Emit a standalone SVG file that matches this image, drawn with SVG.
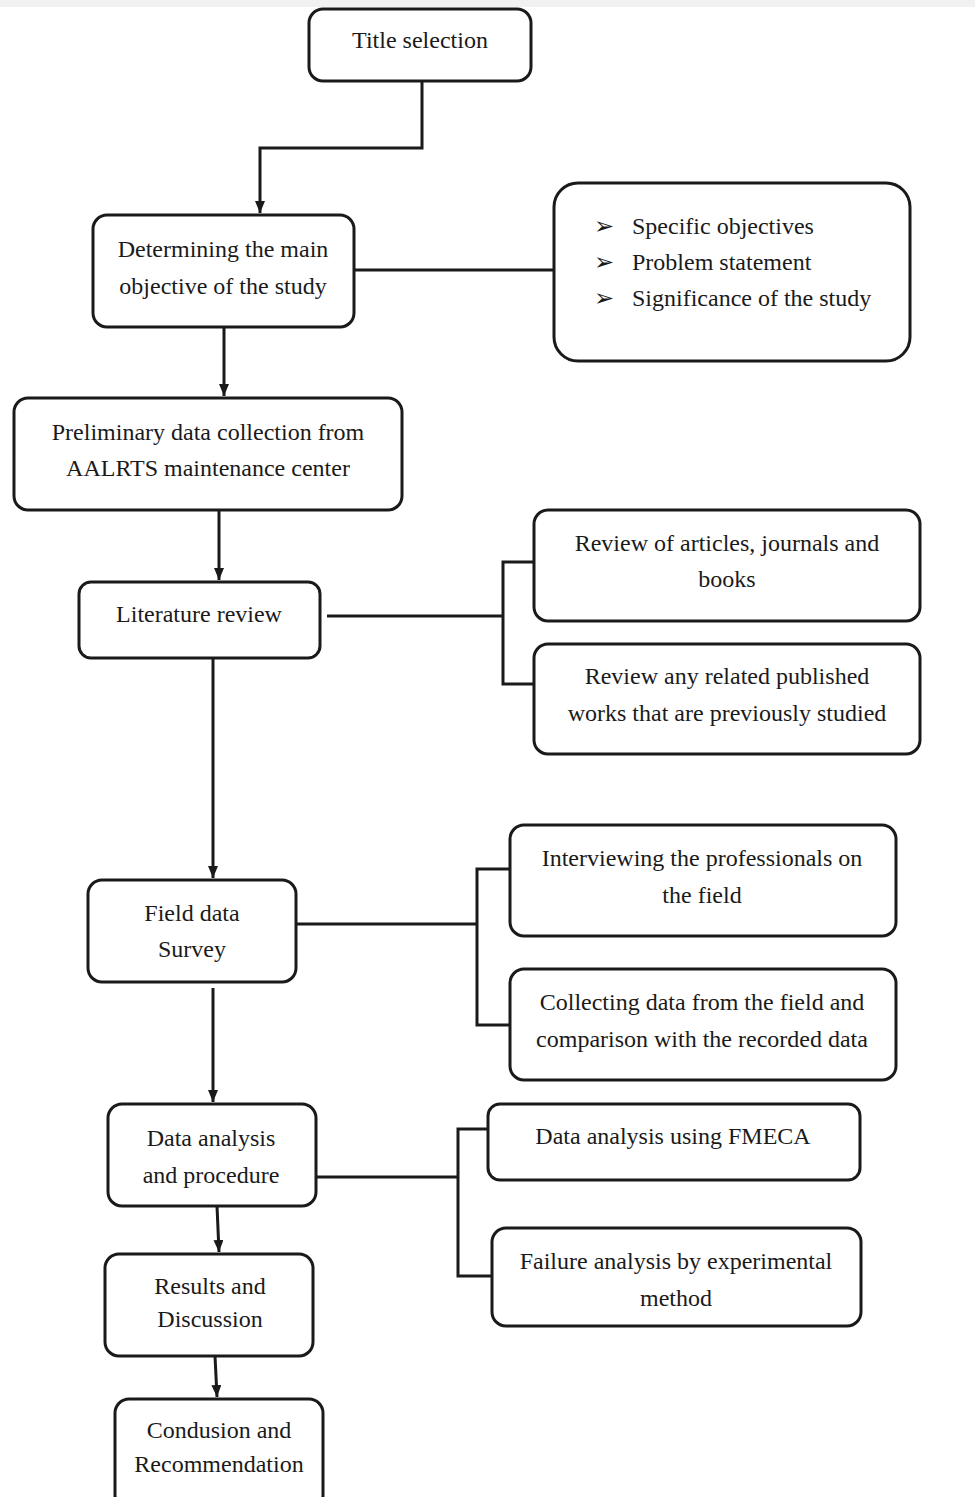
<svg xmlns="http://www.w3.org/2000/svg" width="975" height="1497" viewBox="0 0 975 1497">
  <style>
    .box { fill: #ffffff; stroke: #1a1a1a; stroke-width: 3; }
    .wire { fill: none; stroke: #1a1a1a; stroke-width: 3; }
    .lbl { font-family: 'Liberation Serif', 'Times New Roman', 'DejaVu Serif', serif; font-size: 24px; fill: #1a1a1a; text-anchor: middle; }
    .item { font-family: 'Liberation Serif', 'Times New Roman', 'DejaVu Serif', serif; font-size: 24px; fill: #1a1a1a; }
    .bullet { font-family: 'DejaVu Sans', sans-serif; font-size: 24px; fill: #1a1a1a; }
  </style>
  <defs>
    <marker id="head" viewBox="0 0 12 10" refX="12" refY="5" markerWidth="12" markerHeight="10" markerUnits="userSpaceOnUse" orient="auto">
      <path d="M0,0 L12,5 L0,10 Z" fill="#1a1a1a"/>
    </marker>
  </defs>

  <rect x="0" y="0" width="975" height="1497" fill="#ffffff"/>
  <rect x="0" y="0" width="975" height="7" fill="#f1f1f1"/>

  <!-- connectors -->
  <g id="connectors">
    <path class="wire" d="M422,81 V148 H260 V213" marker-end="url(#head)"/>
    <path class="wire" d="M354,270 H554"/>
    <path class="wire" d="M224,327 V396" marker-end="url(#head)"/>
    <path class="wire" d="M219,510 V580" marker-end="url(#head)"/>
    <path class="wire" d="M327,616 H503"/>
    <path class="wire" d="M534,562 H503 V684 H534"/>
    <path class="wire" d="M213,658 V878" marker-end="url(#head)"/>
    <path class="wire" d="M296,924 H477"/>
    <path class="wire" d="M510,869 H477 V1025 H510"/>
    <path class="wire" d="M213,988 V1102" marker-end="url(#head)"/>
    <path class="wire" d="M316,1177 H458"/>
    <path class="wire" d="M488,1129 H458 V1276 H492"/>
    <path class="wire" d="M217,1206 L219,1252" marker-end="url(#head)"/>
    <path class="wire" d="M215,1356 L217,1397" marker-end="url(#head)"/>
  </g>

  <!-- main column -->
  <g id="title-selection">
    <rect class="box" x="309" y="9" width="222" height="72" rx="14"/>
    <text class="lbl" x="420" y="48" font-family="Liberation Serif, serif">Title selection</text>
  </g>

  <g id="main-objective">
    <rect class="box" x="93" y="215" width="261" height="112" rx="14"/>
    <text class="lbl" x="223" y="257">Determining the main</text>
    <text class="lbl" x="223" y="294">objective of the study</text>
  </g>

  <g id="objective-items">
    <rect class="box" x="554" y="183" width="356" height="178" rx="24"/>
    <text class="bullet" x="594" y="234">➢</text>
    <text class="item" x="632" y="234">Specific objectives</text>
    <text class="bullet" x="594" y="270">➢</text>
    <text class="item" x="632" y="270">Problem statement</text>
    <text class="bullet" x="594" y="306">➢</text>
    <text class="item" x="632" y="306">Significance of the study</text>
  </g>

  <g id="preliminary-data">
    <rect class="box" x="14" y="398" width="388" height="112" rx="14"/>
    <text class="lbl" x="208" y="440">Preliminary data collection from</text>
    <text class="lbl" x="208" y="476">AALRTS maintenance center</text>
  </g>

  <g id="literature-review">
    <rect class="box" x="79" y="582" width="241" height="76" rx="12"/>
    <text class="lbl" x="199" y="622">Literature review</text>
  </g>

  <g id="review-articles">
    <rect class="box" x="534" y="510" width="386" height="111" rx="14"/>
    <text class="lbl" x="727" y="551">Review of articles, journals and</text>
    <text class="lbl" x="727" y="587">books</text>
  </g>

  <g id="review-published">
    <rect class="box" x="534" y="644" width="386" height="110" rx="14"/>
    <text class="lbl" x="727" y="684">Review any related published</text>
    <text class="lbl" x="727" y="721">works that are previously studied</text>
  </g>

  <g id="field-survey">
    <rect class="box" x="88" y="880" width="208" height="102" rx="14"/>
    <text class="lbl" x="192" y="921">Field data</text>
    <text class="lbl" x="192" y="957">Survey</text>
  </g>

  <g id="interviewing">
    <rect class="box" x="510" y="825" width="386" height="111" rx="14"/>
    <text class="lbl" x="702" y="866">Interviewing the professionals on</text>
    <text class="lbl" x="702" y="903">the field</text>
  </g>

  <g id="collecting">
    <rect class="box" x="510" y="969" width="386" height="111" rx="14"/>
    <text class="lbl" x="702" y="1010">Collecting data from the field and</text>
    <text class="lbl" x="702" y="1047">comparison with the recorded data</text>
  </g>

  <g id="data-analysis">
    <rect class="box" x="108" y="1104" width="208" height="102" rx="14"/>
    <text class="lbl" x="211" y="1146">Data analysis</text>
    <text class="lbl" x="211" y="1183">and procedure</text>
  </g>

  <g id="fmeca">
    <rect class="box" x="488" y="1104" width="372" height="76" rx="12"/>
    <text class="lbl" x="673" y="1144">Data analysis using FMECA</text>
  </g>

  <g id="failure-analysis">
    <rect class="box" x="492" y="1228" width="369" height="98" rx="14"/>
    <text class="lbl" x="676" y="1269">Failure analysis by experimental</text>
    <text class="lbl" x="676" y="1306">method</text>
  </g>

  <g id="results">
    <rect class="box" x="105" y="1254" width="208" height="102" rx="14"/>
    <text class="lbl" x="210" y="1294">Results and</text>
    <text class="lbl" x="210" y="1327">Discussion</text>
  </g>

  <g id="conclusion">
    <rect class="box" x="115" y="1399" width="208" height="110" rx="14"/>
    <text class="lbl" x="219" y="1438">Condusion and</text>
    <text class="lbl" x="219" y="1472">Recommendation</text>
  </g>
</svg>
